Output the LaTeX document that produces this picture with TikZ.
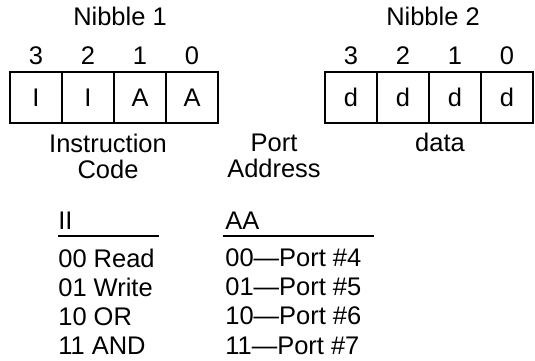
\documentclass[tikz,border=0pt]{standalone}
\usepackage{fontspec}
\setmainfont{Liberation Sans}
\usetikzlibrary{positioning}
\begin{document}
\begin{tikzpicture}[x=0.02cm,y=0.02cm,font=\fontsize{14.5}{16.6}\selectfont,
  cell/.style={draw,line width=0.9pt,minimum width=1.04cm,minimum height=1.02cm,inner sep=0pt},
  bit/.style={anchor=base,inner sep=0pt},
  lbl/.style={align=center,inner sep=0pt,font=\fontsize{14.5}{14.8}\selectfont},
  tab/.style={align=left,anchor=north west,inner sep=0pt},
  rule/.style={line width=1pt}]
\useasboundingbox (0,0) rectangle (535,361);
% --- nibble 1: instruction code + port address ---
\node[bit] (nib1) at (120,335) {Nibble 1};
\node[cell] (i3) at (36,263.5) {I};
\node[cell] (i2) at (88,263.5) {I};
\node[cell] (a1) at (140,263.5) {A};
\node[cell] (a0) at (192,263.5) {A};
\node[bit] (b13) at (36,296) {3};
\node[bit] (b12) at (88,296) {2};
\node[bit] (b11) at (140,296) {1};
\node[bit] (b10) at (192,296) {0};
% --- nibble 2: data ---
\node[bit] (nib2) at (433,335) {Nibble 2};
\node[cell] (d3) at (351,263.5) {d};
\node[cell] (d2) at (403,263.5) {d};
\node[cell] (d1) at (455,263.5) {d};
\node[cell] (d0) at (507,263.5) {d};
\node[bit] (b23) at (351,296) {3};
\node[bit] (b22) at (403,296) {2};
\node[bit] (b21) at (455,296) {1};
\node[bit] (b20) at (507,296) {0};
% --- field names ---
\node[lbl] (icode) at (108,205) {Instruction\\Code};
\node[lbl] (paddr) at (274,205) {Port\\Address};
\node[bit] (data) at (440,209) {data};
% --- tables ---
\node[bit,anchor=base west] (ii) at (58,131) {II};
\draw[rule] ([yshift=-0.12cm]ii.base west) -- ++(101,0);
\node[tab] (ops) at (58,112.5) {00 Read\\01 Write\\10 OR\\11 AND};
\node[bit,anchor=base west] (aa) at (225,131) {AA};
\draw[rule] ([yshift=-0.12cm,xshift=-0.04cm]aa.base west) -- ++(151,0);
\node[tab] (ports) at (225,112.5) {00---Port \#4\\01---Port \#5\\10---Port \#6\\11---Port \#7};
\end{tikzpicture}
\end{document}
